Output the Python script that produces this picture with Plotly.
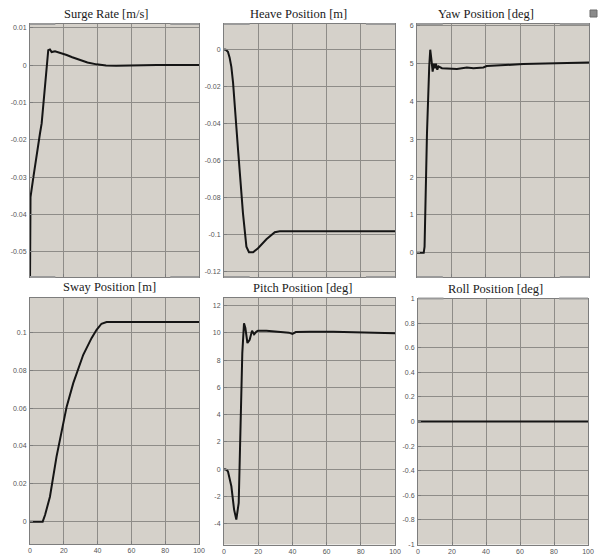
import plotly.graph_objects as go

# ---------------- data ----------------
surge_t = [0, 0.3, 2, 4, 5.9, 6.9, 8.9, 10.8, 11.8, 12.8, 14.8, 18, 21.7, 25, 29.5, 34, 39.4, 45, 51, 61, 75, 100]
surge_v = [-0.058, -0.0353, -0.030, -0.0235, -0.0183, -0.0156, -0.0058, 0.0040, 0.0042, 0.0035, 0.0037, 0.0033,
           0.0027, 0.0021, 0.0013, 0.0007, 0.0002, -0.0001, -0.0002, -0.0001, 0.0, 0.0]

heave_t = [0, 1, 2.3, 3.3, 4.3, 5.3, 8.2, 11.1, 13.1, 14.6, 17, 19.9, 24.8, 29.7, 32.6, 50, 100]
heave_v = [0, -0.0002, -0.0013, -0.0045, -0.0094, -0.018, -0.054, -0.0885, -0.1065, -0.1095, -0.1095,
           -0.1074, -0.1025, -0.0987, -0.0982, -0.0982, -0.0982]

yaw_t = [0, 3.9, 4.4, 5.8, 7.1, 7.7, 8.5, 9.1, 9.8, 10.4, 11.0, 11.8, 12.5, 14.5, 23.2, 29, 32.8, 38.6, 40.5, 61.8, 100]
yaw_v = [0, 0, 0.16, 3.16, 4.92, 5.37, 5.06, 4.79, 5.0, 4.88, 5.0, 4.84, 4.93, 4.88, 4.86, 4.9, 4.88, 4.9, 4.94, 4.99, 5.03]

sway_t = [0, 7.5, 8.9, 11.8, 15.7, 18.7, 21.7, 25.6, 31.5, 36.4, 39.4, 42.3, 45.3, 60, 100]
sway_v = [0, 0, 0.0035, 0.0132, 0.0344, 0.0485, 0.0608, 0.0732, 0.0882, 0.097, 0.1014, 0.1046, 0.1055, 0.1055, 0.1055]

pitch_t = [0, 1, 2.3, 4.3, 5.9, 7.2, 8.6, 9.6, 10.7, 11.7, 12.5, 13.7, 15.0, 16.4, 17.6, 19.0, 19.9, 24.8, 30.7,
           38, 40, 42, 50, 63.9, 100]
pitch_v = [0, -0.02, -0.15, -1.25, -2.96, -3.69, -2.47, 2.42, 8.52, 10.7, 10.36, 9.26, 9.5, 10.16, 9.9, 10.1, 10.16,
           10.16, 10.1, 10.02, 9.93, 10.06, 10.08, 10.08, 9.98]

roll_t = [0, 100]
roll_v = [0, 0]

titles = ["Surge Rate [m/s]", "Heave Position [m]", "Yaw Position [deg]",
          "Sway Position [m]", "Pitch Position [deg]", "Roll Position [deg]"]

x_ticks = [0, 20, 40, 60, 80, 100]
x_tick_labels = ["0", "20", "40", "60", "80", "100"]

surge_ticks = [0.01, 0, -0.01, -0.02, -0.03, -0.04, -0.05]
surge_labels = ["0.01", "0", "-0.01", "-0.02", "-0.03", "-0.04", "-0.05"]
heave_ticks = [0, -0.02, -0.04, -0.06, -0.08, -0.1, -0.12]
heave_labels = ["0", "-0.02", "-0.04", "-0.06", "-0.08", "-0.1", "-0.12"]
yaw_ticks = [0, 1, 2, 3, 4, 5, 6]
yaw_labels = ["0", "1", "2", "3", "4", "5", "6"]
sway_ticks = [0, 0.02, 0.04, 0.06, 0.08, 0.1]
sway_labels = ["0", "0.02", "0.04", "0.06", "0.08", "0.1"]
pitch_ticks = [-4, -2, 0, 2, 4, 6, 8, 10, 12]
pitch_labels = ["-4", "-2", "0", "2", "4", "6", "8", "10", "12"]
roll_ticks = [-1, -0.8, -0.6, -0.4, -0.2, 0, 0.2, 0.4, 0.6, 0.8, 1]
roll_labels = ["-1", "-0.8", "-0.6", "-0.4", "-0.2", "0", "0.2", "0.4", "0.6", "0.8", "1"]

# ---------------- layout geometry ----------------
W, H = 600, 554
# pixel boxes: (left, right, top, bottom)
boxes = [(30, 199, 24, 277), (224, 395, 24, 277), (417, 589, 24, 277),
         (30, 199, 298, 544), (224, 395, 298, 544.5), (418, 588, 298.5, 544.5)]
yranges = [(-0.0567, 0.011), (-0.1229, 0.0137), (-0.64, 6.05),
           (-0.0118, 0.1182), (-5.52, 12.56), (-1, 1)]
title_pos = [(106, 14), (298, 14), (486, 14), (109, 287), (302, 288), (495, 289)]

series = [(surge_t, surge_v), (heave_t, heave_v), (yaw_t, yaw_v),
          (sway_t, sway_v), (pitch_t, pitch_v), (roll_t, roll_v)]
yticks = [(surge_ticks, surge_labels), (heave_ticks, heave_labels), (yaw_ticks, yaw_labels),
          (sway_ticks, sway_labels), (pitch_ticks, pitch_labels), (roll_ticks, roll_labels)]

BG = "#d5d1ca"
GRID = "#8e8c88"
FRAME = "#7d7d7d"

fig = go.Figure()
layout = dict(width=W, height=H, margin=dict(l=0, r=0, t=0, b=0),
              paper_bgcolor="white", plot_bgcolor=BG, showlegend=False)
annotations = []
shapes = []

for i in range(6):
    k = "" if i == 0 else str(i + 1)
    l, r, t, b = boxes[i]
    xs, ys = series[i]
    fig.add_trace(go.Scatter(x=xs, y=ys, mode="lines", xaxis="x" + k, yaxis="y" + k,
                             line=dict(color="#151515", width=2), hoverinfo="skip"))
    row2 = i >= 3
    layout["xaxis" + k] = dict(
        domain=[l / W, r / W], range=[0, 100], anchor="y" + k, automargin=False,
        tickvals=x_ticks, ticktext=x_tick_labels, showticklabels=row2,
        showgrid=True, gridcolor=GRID, gridwidth=1, zeroline=False,
        showline=True, linecolor=FRAME, linewidth=1, mirror=True,
        ticks="inside", ticklen=3, tickcolor=FRAME,
        tickfont=dict(family="Liberation Sans, Arial, sans-serif", size=7, color="#555"),
        fixedrange=True)
    tv, tt = yticks[i]
    layout["yaxis" + k] = dict(
        domain=[1 - b / H, 1 - t / H], range=list(yranges[i]), anchor="x" + k, automargin=False,
        tickvals=tv, ticktext=tt,
        showgrid=True, gridcolor=GRID, gridwidth=1, zeroline=False,
        showline=True, linecolor=FRAME, linewidth=1, mirror=True,
        ticks="inside", ticklen=3, tickcolor=FRAME, ticklabelstandoff=1,
        tickfont=dict(family="Liberation Sans, Arial, sans-serif", size=7, color="#555"),
        fixedrange=True)
    tx, ty = title_pos[i]
    annotations.append(dict(text=titles[i], x=tx / W, y=1 - ty / H, xref="paper", yref="paper",
                            xanchor="center", yanchor="middle", showarrow=False,
                            font=dict(family="Liberation Serif, Times New Roman, serif", size=12.5,
                                      color="#1a1a1a")))
    # corner tabs on the frame (scope-window artifacts)
    if not row2 or i == 5:
        xr = "x" + k + " domain"
        yr = "y" + k + " domain"
        for (x0, x1) in [(0, 0.15), (0.83, 1.0)]:
            shapes.append(dict(type="line", xref=xr, yref=yr, x0=x0, x1=x1, y0=1, y1=1,
                               line=dict(color="#9a9a9a", width=2)))
            if not row2:
                shapes.append(dict(type="line", xref=xr, yref=yr, x0=x0, x1=x1, y0=0, y1=0,
                                   line=dict(color="#9a9a9a", width=2)))

# small window icon at top right
shapes.append(dict(type="rect", xref="paper", yref="paper",
                   x0=590 / W, x1=597 / W, y0=1 - 17 / H, y1=1 - 10 / H,
                   fillcolor="#8a8a8a", line=dict(color="#6a6a6a", width=1)))

layout["annotations"] = annotations
layout["shapes"] = shapes
layout["template"] = "none"
fig.update_layout(**layout)
fig.write_html("out.html", config={"displayModeBar": False, "staticPlot": True},
               post_script="document.body.style.margin='0';document.body.style.overflow='hidden';")
